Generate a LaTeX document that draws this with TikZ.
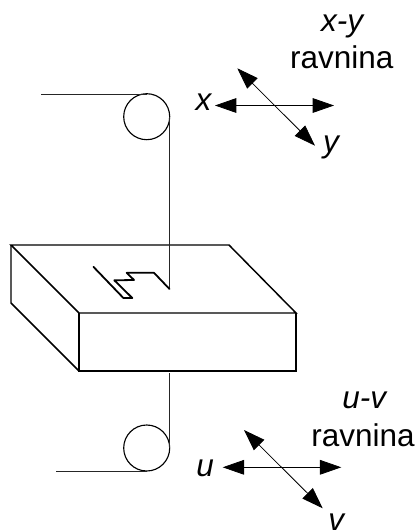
\documentclass[tikz,border=0pt]{standalone}
\usepackage{fontspec}
\setmainfont{Liberation Sans}
\usetikzlibrary{arrows.meta}
\tikzset{
  px/.style={x=0.75pt,y=-0.75pt},
  edge/.style={line width=1.1pt,line join=miter},
  wire/.style={line width=0.65pt,black!85},
  crack/.style={line width=1.35pt,line join=round,line cap=round},
  pulley/.style={circle,draw,line width=0.85pt,minimum size=34.5pt,inner sep=0pt,fill=white},
  axis/.style={line width=0.6pt,{Triangle[length=16pt,width=11pt]}-{Triangle[length=16pt,width=11pt]}},
  lab/.style={anchor=base,inner sep=0pt,font=\fontsize{23.6pt}{26pt}\selectfont},
}
\begin{document}
\begin{tikzpicture}[px]
\useasboundingbox (0,0) rectangle (418,531);
% block
\coordinate (bl) at (11,245);
\coordinate (br) at (229,245);
\coordinate (fr) at (296,313);
\coordinate (fl) at (79,313);
\coordinate (fbl) at (79,371);
\coordinate (fbr) at (296,371);
\coordinate (lb) at (11,303);
\draw[edge] (bl) -- (br) -- (fr) -- (fl) -- cycle;
\draw[edge] (fl) -- (fbl) -- (fbr) -- (fr);
\draw[edge] (bl) -- (lb) -- (fbl);
% pulleys
\node[pulley] (p1) at (146.7,116.7) {};
\node[pulley] (p2) at (146.7,448) {};
% wires
\coordinate (w1) at (41,94);
\coordinate (w1b) at (146.7,94);
\coordinate (w2) at (169.5,116.7);
\coordinate (w3) at (169.5,289);
\coordinate (w4) at (169.5,373);
\coordinate (w5) at (169.5,448);
\coordinate (w6) at (146.7,471);
\coordinate (w7) at (56,471);
\draw[wire] (w1) -- (w1b);
\draw[wire] (w2) -- (w3);
\draw[wire] (w4) -- (w5);
\draw[wire] (w6) -- (w7);
% crack
\coordinate (c1) at (93.4,266.8);
\coordinate (c2) at (123.4,298);
\coordinate (c3) at (132.3,298);
\coordinate (c4) at (114.3,280.3);
\coordinate (c5) at (134,280);
\coordinate (c6) at (126.7,272.8);
\coordinate (c7) at (154,272.8);
\draw[crack] (c1) -- (c2) -- (c3) -- (c4) -- (c5) -- (c6) -- (c7) -- (w3);
% x-y axes
\coordinate (xa) at (215,105.5);
\coordinate (xb) at (334,105.5);
\coordinate (ya) at (237.3,68.3);
\coordinate (yb) at (315,145.7);
\draw[axis] (xa) -- (xb);
\draw[axis] (ya) -- (yb);
% u-v axes
\coordinate (ua) at (222.7,467.3);
\coordinate (ub) at (341.3,467.3);
\coordinate (va) at (244,430);
\coordinate (vb) at (322.7,508.3);
\draw[axis] (ua) -- (ub);
\draw[axis] (va) -- (vb);
% labels
\node[lab] (t1) at (343,31.5) {\textit{x-y}};
\node[lab] (t2) at (341.7,69) {ravnina};
\node[lab] (t3) at (204,111) {\textit{x}};
\node[lab] (t4) at (331.7,152.5) {\textit{y}};
\node[lab] (t5) at (365,408) {\textit{u-v}};
\node[lab] (t6) at (363,446) {ravnina};
\node[lab] (t7) at (205,476.5) {\textit{u}};
\node[lab] (t8) at (337,530.5) {\textit{v}};
\end{tikzpicture}
\end{document}
